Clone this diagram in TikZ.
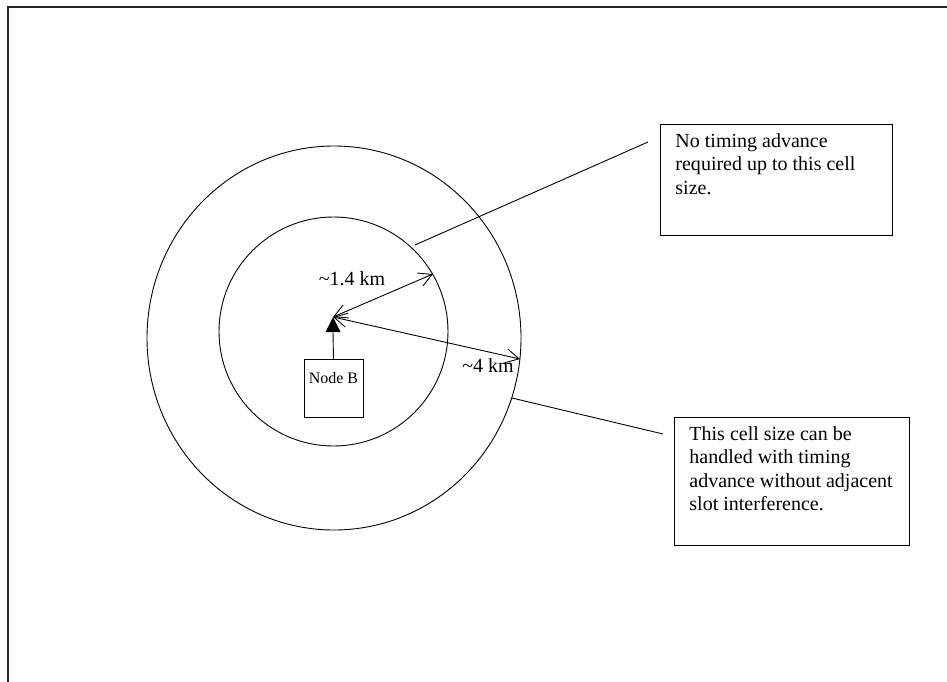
\documentclass[tikz,border=0pt]{standalone}
\usepackage{fontspec}
\setmainfont{Liberation Serif}
\usetikzlibrary{arrows.meta}
\begin{document}
\begin{tikzpicture}[x=1pt, y=-1pt, line width=0.9pt,
    callout/.style={rectangle, draw, anchor=north west, inner xsep=15pt, inner ysep=9pt, font=\fontsize{20}{23.5}\selectfont},
    radius line/.style={{Straight Barb[length=13pt,width=14pt]}-{Straight Barb[length=13pt,width=14pt]}},
    base station/.style={rectangle, draw, inner sep=0pt, minimum width=59pt, text height=24pt, text depth=34pt, font=\fontsize{16}{19}\selectfont},
    kmlabel/.style={inner sep=0pt, font=\fontsize{20}{24}\selectfont}]

    \useasboundingbox (0,0) rectangle (947,682);

    % Draw the page frame
    \draw[line width=1.5pt, black!85] (8,682) -- (8,7) -- (947,7);

    % Draw the two cells
    \draw (333.5,331.5) circle [radius=114.5pt];
    \draw (334,338) ellipse [x radius=187pt, y radius=192pt];

    % Draw Node B and its antenna
    \node[base station, anchor=north] (nodeB) at (333.5,359) {Node B};
    \coordinate (antTip) at (333,317);
    \coordinate (antBase) at (333,332);
    \fill (antTip) -- ([xshift=-7.5pt]antBase) -- ([xshift=7.5pt]antBase) -- cycle;
    \draw (nodeB.north) -- (antBase);

    % Draw the cell radii
    \coordinate (innerEdge) at (433,274);
    \coordinate (outerEdge) at (520,359);
    \draw[radius line] (antTip) -- (innerEdge);
    \draw[radius line] (antTip) -- (outerEdge);
    \node[kmlabel] (innerLabel) at (352,279) {\textasciitilde1.4 km};
    \node[kmlabel] (outerLabel) at (488,366) {\textasciitilde4 km};

    % Draw the callouts and their leader lines
    \node[callout] (noAdvance) at (660,124) {\parbox[t][93pt][t]{202pt}{\raggedright No timing advance\\required up to this cell\\size.}};
    \node[callout] (withAdvance) at (674,417) {\parbox[t][110pt][t]{205pt}{\raggedright This cell size can be\\handled with timing\\advance without adjacent\\slot interference.}};
    \coordinate (innerLead) at (415,245);
    \coordinate (innerLeadEnd) at (648,142);
    \coordinate (outerLead) at (512,398);
    \coordinate (outerLeadEnd) at (663,434);
    \draw (innerLead) -- (innerLeadEnd);
    \draw (outerLead) -- (outerLeadEnd);
\end{tikzpicture}
\end{document}
